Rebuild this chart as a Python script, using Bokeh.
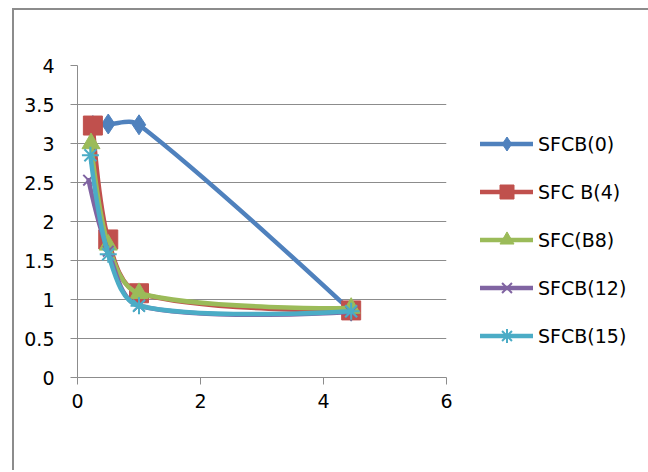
import numpy as np
from bokeh.plotting import figure
from bokeh.models import (Legend, LegendItem, FixedTicker, CustomJSTickFormatter,
                          ColumnDataSource, Range1d)
from bokeh.embed import file_html
from bokeh.resources import INLINE

# ---------------- data ----------------
series_names = ["SFCB(0)", "SFC B(4)", "SFC(B8)", "SFCB(12)", "SFCB(15)"]
sfcb0_x = [0.25, 0.5, 1.0, 4.45]
sfcb0_y = [3.23, 3.25, 3.24, 0.85]
sfcb4_x = [0.25, 0.5, 1.0, 4.45]
sfcb4_y = [3.23, 1.77, 1.08, 0.86]
sfcb8_x = [0.22, 0.5, 1.0, 4.45]
sfcb8_y = [3.0, 1.70, 1.08, 0.89]
sfcb12_x = [0.18, 0.5, 1.0, 4.45]
sfcb12_y = [2.53, 1.62, 0.92, 0.84]
sfcb15_x = [0.21, 0.5, 1.0, 4.45]
sfcb15_y = [2.85, 1.58, 0.92, 0.85]
x_ticks = [0, 2, 4, 6]
y_ticks = [0, 0.5, 1, 1.5, 2, 2.5, 3, 3.5, 4]

colors = ["#4F81BD", "#C0504D", "#9BBB59", "#8064A2", "#4BACC6"]
markers = ["diamond", "square", "triangle", "x", "asterisk"]
msizes = [20, 19, 18, 15, 17]

FONT = "DejaVu Sans"
GRID = "#8c8c8c"

p = figure(width=632, height=460, output_backend="svg", toolbar_location=None,
           x_range=Range1d(0, 6), y_range=Range1d(0, 4),
           min_border_left=63, min_border_top=55, min_border_right=200,
           min_border_bottom=93, frame_width=369, frame_height=312,
           margin=(8, 0, 0, 12),
           styles={"border-left": "2px solid #8c8c8c", "border-top": "2px solid #8c8c8c"})
p.outline_line_color = None
p.background_fill_color = "white"
p.border_fill_color = "white"

p.xgrid.visible = False
p.ygrid.ticker = FixedTicker(ticks=y_ticks)
p.ygrid.grid_line_color = GRID
p.ygrid.grid_line_width = 1

for ax in (p.xaxis[0], p.yaxis[0]):
    ax.axis_line_color = GRID
    ax.axis_line_width = 1
    ax.major_tick_line_color = GRID
    ax.major_tick_out = 7
    ax.major_tick_in = 0
    ax.minor_tick_line_color = None
    ax.major_label_text_font = FONT
    ax.major_label_text_font_size = "19px"
    ax.major_label_text_color = "black"
    ax.formatter = CustomJSTickFormatter(code="return tick.toString();")
p.xaxis[0].ticker = FixedTicker(ticks=x_ticks)
p.yaxis[0].ticker = FixedTicker(ticks=y_ticks)
p.yaxis[0].major_label_standoff = 16
p.xaxis[0].major_label_standoff = 9

XS = 61.5  # px per x unit (for smoothing geometry)
YS = 78.0  # px per y unit


def smooth_controls(xs, ys):
    xs = np.asarray(xs, float)
    ys = np.asarray(ys, float)
    n = len(xs)
    px, py = xs * XS, ys * YS
    L = np.hypot(np.diff(px), np.diff(py))
    x0, y0, x1, y1, cx0, cy0, cx1, cy1 = ([] for _ in range(8))
    for i in range(n - 1):
        if i == 0:
            c0 = (xs[i], ys[i])
        else:
            f = L[i] / (L[i - 1] + L[i]) / 3.0
            c0 = (xs[i] + (xs[i + 1] - xs[i - 1]) * f, ys[i] + (ys[i + 1] - ys[i - 1]) * f)
        j = i + 1
        if j == n - 1:
            c1 = (xs[j], ys[j])
        else:
            f = L[i] / (L[i] + L[j]) / 3.0
            c1 = (xs[j] - (xs[j + 1] - xs[j - 1]) * f, ys[j] - (ys[j + 1] - ys[j - 1]) * f)
        x0.append(xs[i]); y0.append(ys[i]); x1.append(xs[j]); y1.append(ys[j])
        cx0.append(c0[0]); cy0.append(c0[1]); cx1.append(c1[0]); cy1.append(c1[1])
    return dict(x0=x0, y0=y0, x1=x1, y1=y1, cx0=cx0, cy0=cy0, cx1=cx1, cy1=cy1)


all_x = [sfcb0_x, sfcb4_x, sfcb8_x, sfcb12_x, sfcb15_x]
all_y = [sfcb0_y, sfcb4_y, sfcb8_y, sfcb12_y, sfcb15_y]

items = []
for name, xs, ys, c, m, s in zip(series_names, all_x, all_y, colors, markers, msizes):
    src = ColumnDataSource(smooth_controls(xs, ys))
    p.bezier(x0="x0", y0="y0", x1="x1", y1="y1", cx0="cx0", cy0="cy0",
             cx1="cx1", cy1="cy1", source=src, line_color=c, line_width=4.5,
             line_cap="round", line_join="round")
    # hidden renderer used only for the legend swatch line
    leg_line = p.line(xs, ys, line_color=c, line_width=4.5, line_cap="round",
                      visible=False)
    if m in ("x", "asterisk"):
        sc = p.scatter(xs, ys, marker=m, size=s, line_color=c, line_width=2)
    else:
        sc = p.scatter(xs, ys, marker=m, size=s, fill_color=c, line_color=c, line_width=1)
    items.append(LegendItem(label=name, renderers=[leg_line, sc], index=0))

legend = Legend(items=items, location=(34, 24), orientation="vertical",
                glyph_width=53, glyph_height=35, spacing=13, label_standoff=5,
                padding=0, margin=0, border_line_color=None,
                background_fill_alpha=0, label_text_font=FONT,
                label_text_font_size="19px", label_text_color="black")
p.add_layout(legend, "right")

open("out.html", "w").write(file_html(p, INLINE))
